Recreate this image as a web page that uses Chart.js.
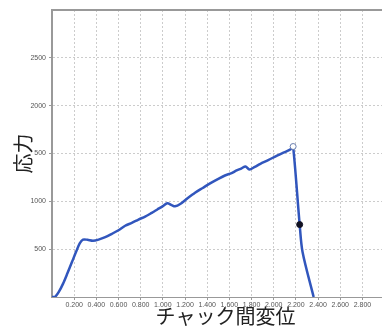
<!DOCTYPE html>
<html>
<head>
<meta charset="utf-8">
<script src="https://cdn.jsdelivr.net/npm/chart.js@4/dist/chart.umd.min.js"></script>
<style>
  html, body { margin: 0; padding: 0; background: #fff; overflow: hidden; }
  #wrap { width: 404px; height: 328px; }
</style>
</head>
<body>
<div id="wrap"><canvas id="c" width="404" height="328"></canvas></div>
<script>
// Displacement between grips (mm) and stress readings
const displacement = [0, 0.03, 0.06, 0.10, 0.14, 0.18, 0.22, 0.25, 0.28, 0.32, 0.37, 0.42, 0.48, 0.54, 0.60, 0.66, 0.72, 0.78, 0.84, 0.90, 0.95, 1.00, 1.04, 1.08, 1.11, 1.16, 1.22, 1.29, 1.36, 1.43, 1.50, 1.56, 1.62, 1.66, 1.71, 1.745, 1.78, 1.83, 1.88, 1.95, 2.03, 2.10, 2.16, 2.175, 2.234, 2.26, 2.36];
const stress = [0, 5, 50, 140, 250, 365, 480, 560, 600, 598, 588, 600, 625, 660, 698, 745, 775, 810, 840, 880, 915, 950, 980, 960, 948, 975, 1030, 1090, 1140, 1190, 1235, 1270, 1295, 1320, 1345, 1365, 1333, 1360, 1392, 1430, 1479, 1515, 1549, 1573, 757, 470, 0];

// Marked points: maximum (open) and break point (filled)
const peakPoint = { x: 2.175, y: 1573 };
const breakPoint = { x: 2.234, y: 757 };

// Axis tick values and labels
const xTickValues = [0.2, 0.4, 0.6, 0.8, 1.0, 1.2, 1.4, 1.6, 1.8, 2.0, 2.2, 2.4, 2.6, 2.8];
const xTickLabels = ['0.200', '0.400', '0.600', '0.800', '1.000', '1.200', '1.400', '1.600', '1.800', '2.000', '2.200', '2.400', '2.600', '2.800'];
const yTickValues = [500, 1000, 1500, 2000, 2500];
const yTickLabels = ['500', '1000', '500', '2000', '2500'];

const curve = displacement.map((x, i) => ({ x: x, y: stress[i] }));

const tickFont = { family: 'Liberation Sans', size: 7 };
const titleFont = { family: 'Noto Sans CJK JP', size: 20 };

new Chart(document.getElementById('c'), {
  type: 'scatter',
  data: {
    datasets: [
      {
        data: [peakPoint],
        pointRadius: 3,
        pointBackgroundColor: '#ffffff',
        pointBorderColor: '#6a7fae',
        pointBorderWidth: 1,
        order: 0
      },
      {
        data: [breakPoint],
        pointRadius: 3,
        pointBackgroundColor: '#111122',
        pointBorderColor: '#111122',
        order: 0
      },
      {
        data: curve,
        showLine: true,
        borderColor: '#3156bd',
        borderWidth: 2.5,
        pointRadius: 0,
        tension: 0.3,
        order: 1
      }
    ]
  },
  options: {
    responsive: false,
    animation: false,
    layout: { padding: { top: 10, left: 11, right: 0, bottom: 0 } },
    plugins: { legend: { display: false }, tooltip: { enabled: false } },
    scales: {
      x: {
        type: 'linear',
        min: 0,
        max: 3.13,
        afterBuildTicks: (s) => { s.ticks = xTickValues.map(v => ({ value: v })); },
        afterFit: (s) => { s.height = 31; },
        ticks: {
          callback: (v, i) => xTickLabels[i],
          font: tickFont,
          color: '#555',
          padding: 1,
          maxRotation: 0,
          autoSkip: false
        },
        grid: {
          color: '#cccccc',
          tickColor: '#999',
          tickLength: 3
        },
        border: { display: true, color: '#999', width: 1, dash: [2, 2] },
        title: {
          display: true,
          text: 'チャック間変位',
          font: titleFont,
          color: '#222',
          padding: { top: 1, bottom: 0 }
        }
      },
      y: {
        type: 'linear',
        min: 0,
        max: 3000,
        afterBuildTicks: (s) => { s.ticks = yTickValues.map(v => ({ value: v })); },
        afterFit: (s) => { s.width = 41; },
        ticks: {
          callback: (v, i) => yTickLabels[i],
          font: tickFont,
          color: '#555',
          padding: 3
        },
        grid: {
          color: '#cccccc',
          tickColor: '#999',
          tickLength: 3
        },
        border: { display: true, color: '#999', width: 2, dash: [2, 2] },
        title: {
          display: true,
          text: '応力',
          font: titleFont,
          color: '#222',
          padding: { top: 0, bottom: 4 }
        }
      }
    }
  },
  plugins: [{
    id: 'frameLines',
    beforeDatasetsDraw(chart) {
      const { ctx, chartArea: a } = chart;
      ctx.save();
      ctx.setLineDash([]);
      ctx.strokeStyle = '#999';
      ctx.lineWidth = 2;
      ctx.beginPath();
      ctx.moveTo(a.left, a.top);
      ctx.lineTo(a.right, a.top);
      ctx.moveTo(a.left, a.top);
      ctx.lineTo(a.left, a.bottom);
      ctx.stroke();
      ctx.lineWidth = 1;
      ctx.beginPath();
      ctx.moveTo(a.left, a.bottom + 0.5);
      ctx.lineTo(a.right, a.bottom + 0.5);
      ctx.stroke();
      ctx.restore();
    }
  }]
});
</script>
</body>
</html>
